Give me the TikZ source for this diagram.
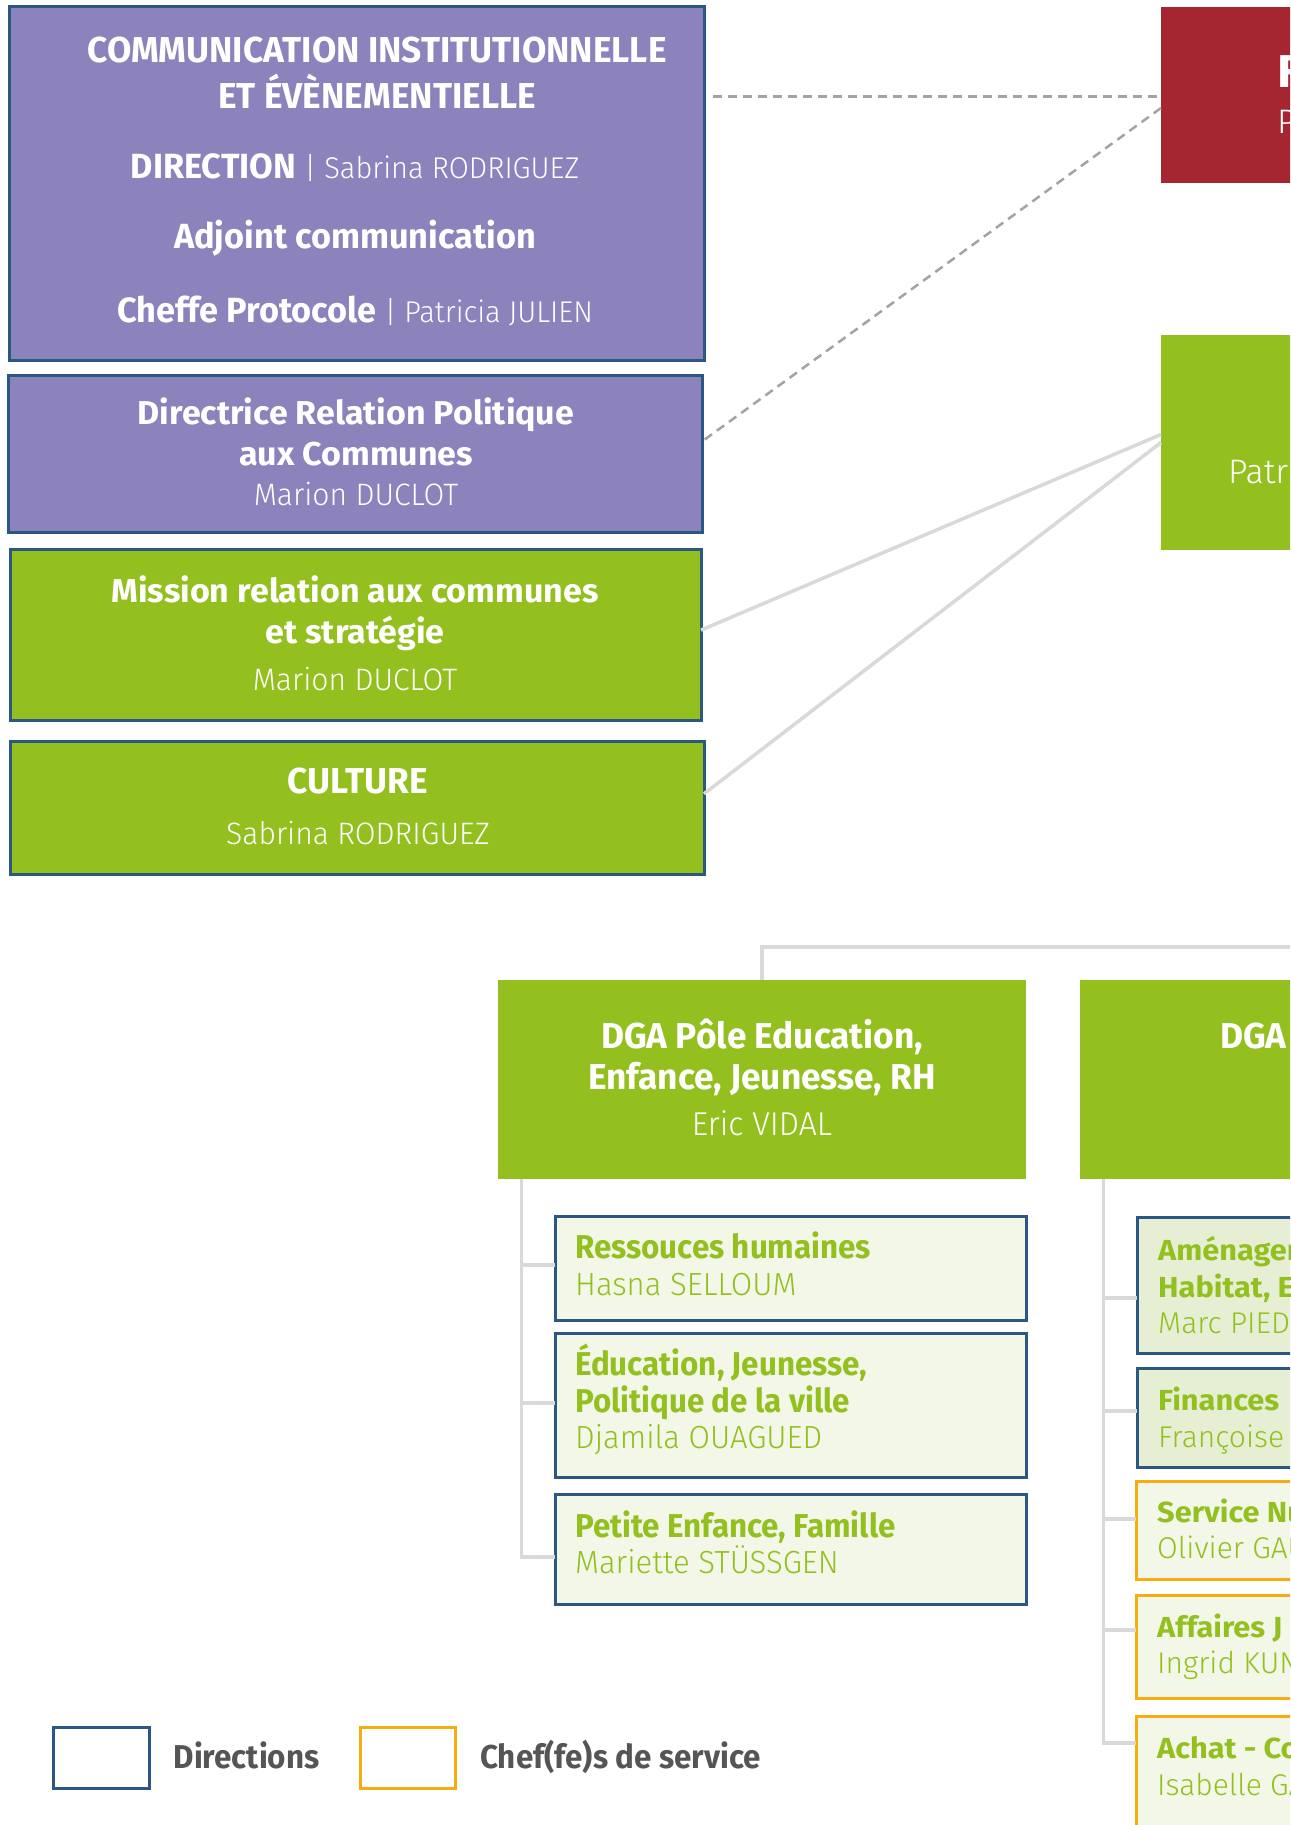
\documentclass[tikz,border=0pt]{standalone}
\usepackage{fontspec}
\setmainfont{Fira Sans}
\newfontfamily\CBa{Fira Sans}[FakeStretch=1.03]
\newfontfamily\CBb{Fira Sans}[FakeStretch=0.98]
\newfontfamily\CBc{Fira Sans}[FakeStretch=0.95]
\newfontfamily\CLf{Fira Sans Light}[FakeStretch=0.97]
\newfontfamily\NBf{Fira Sans}[FakeStretch=1.06]
\newfontfamily\NLf{Fira Sans Light}
\usetikzlibrary{calc}
\newcommand\fca[1]{\CBa\bfseries\fontsize{#1}{#1}\selectfont}
\newcommand\fcb[1]{\CBb\bfseries\fontsize{#1}{#1}\selectfont}
\newcommand\fcc[1]{\CBc\bfseries\fontsize{#1}{#1}\selectfont}
\newcommand\fcl[1]{\CLf\mdseries\fontsize{#1}{#1}\selectfont}
\newcommand\fnb[1]{\NBf\bfseries\fontsize{#1}{#1}\selectfont}
\newcommand\fnl[1]{\NLf\mdseries\fontsize{#1}{#1}\selectfont}
\newcommand\mkbox[6]{\node[#6, anchor=north west, inner sep=0pt, outer sep=0pt, minimum width={#4-#2}, minimum height={#5-#3}] (#1) at (#2,#3) {};}
\definecolor{purp}{HTML}{8C82BC}
\definecolor{dblue}{HTML}{2A5883}
\definecolor{lgreen}{HTML}{93C01F}
\definecolor{redc}{HTML}{A52630}
\definecolor{pale}{HTML}{F2F7E7}
\definecolor{paled}{HTML}{E6EFD4}
\definecolor{orng}{HTML}{F5AD0F}
\definecolor{conng}{HTML}{D9D9D9}
\definecolor{dashc}{HTML}{A3A3A3}
\definecolor{legtxt}{HTML}{555555}
\tikzset{
 pbox/.style={fill=purp, draw=dblue, line width=3pt},
 gbox/.style={fill=lgreen, draw=dblue, line width=3pt},
 gplain/.style={fill=lgreen},
 rplain/.style={fill=redc},
 dbox/.style={fill=pale, draw=dblue, line width=3pt},
 ddbox/.style={fill=paled, draw=dblue, line width=3pt},
 obox/.style={fill=pale, draw=orng, line width=3pt},
 legd/.style={fill=white, draw=dblue, line width=3pt},
 lego/.style={fill=white, draw=orng, line width=3pt},
 wt/.style={text=white, inner sep=0pt, anchor=base},
 wtl/.style={text=white, inner sep=0pt, anchor=base west},
 gt/.style={text=lgreen, inner sep=0pt, anchor=base west},
 lt/.style={text=legtxt, inner sep=0pt, anchor=base west, font=\fcc{33}},
 conn/.style={draw=conng, line width=3.5pt},
 dashl/.style={draw=dashc, line width=2.5pt, dash pattern=on 9pt off 6pt},
}
\begin{document}
\begin{tikzpicture}[x=1pt,y=-1pt]
\useasboundingbox (0,0) rectangle (1290,1825);
\fill[white] (0,0) rectangle (1290,1825);
\clip (0,0) rectangle (1290,1825);

% ---------- top-left boxes
\mkbox{comm}{9}{7}{704}{360}{pbox}
\node[wt,font=\fcb{36}] (comm1) at (377,63) {COMMUNICATION INSTITUTIONNELLE};
\node[wt,font=\fcb{36}] (comm2) at (377,109) {ET ÉVÈNEMENTIELLE};
\node[wt] (comm3) at (355,178) {\fcb{35}DIRECTION \fcl{30}| Sabrina RODRIGUEZ};
\node[wt,font=\fcb{35}] (comm4) at (355,248) {Adjoint communication};
\node[wt] (comm5) at (355,322) {\fcb{35}Cheffe Protocole \fcl{30}| Patricia JULIEN};

\mkbox{drp}{8}{375}{702}{532}{pbox}
\node[wt,font=\fca{33}] (drp1) at (356,424) {Directrice Relation Politique};
\node[wt,font=\fca{33}] (drp2) at (356,465) {aux Communes};
\node[wt,font=\fcl{31}] (drp3) at (356,505) {Marion DUCLOT};

\mkbox{mis}{10.5}{549.5}{701}{720.7}{gbox}
\node[wt,font=\fca{33}] (mis1) at (355,602) {Mission relation aux communes};
\node[wt,font=\fca{33}] (mis2) at (355,643) {et stratégie};
\node[wt,font=\fcl{31}] (mis3) at (355,690) {Marion DUCLOT};

\mkbox{cul}{10.5}{741.6}{704}{874}{gbox}
\node[wt,font=\fcb{36}] (cul1) at (358,793) {CULTURE};
\node[wt,font=\fcl{31}] (cul2) at (358,844) {Sabrina RODRIGUEZ};

% ---------- right-edge boxes
\mkbox{pres}{1161}{7}{1300}{183}{rplain}
\node[wtl,font=\fnb{46}] (pres1) at (1277,88) {F};
\node[wtl,font=\fnl{34}] (pres2) at (1277,133) {P};

\mkbox{dgs}{1161}{335}{1300}{550}{gplain}
\node[wtl,font=\fnl{34}] (dgs1) at (1228,483) {Patric};

% ---------- connectors top
\draw[dashl] ($(comm.east |- pres.west)+(9,1.5)$) -- ($(pres.west)+(0,1.5)$);
\draw[dashl] ($(pres.west)+(0,13)$) -- ($(drp.east)+(0,-12)$);
\draw[conn] ($(dgs.west)+(0,-8)$) -- ($(mis.east)+(0,-5)$);
\draw[conn] (dgs.west) -- ($(cul.east)+(0,-14)$);

% ---------- DGA boxes
\mkbox{dga1}{498}{980}{1026}{1179}{gplain}
\node[wt,font=\fcb{36}] (dga1a) at (762,1048) {DGA Pôle Education,};
\node[wt,font=\fcb{36}] (dga1b) at (762,1089) {Enfance, Jeunesse, RH};
\node[wt,font=\fcl{33}] (dga1c) at (762,1135) {Eric VIDAL};

\mkbox{dga2}{1080}{980}{1300}{1179}{gplain}
\node[wtl,font=\fcb{36}] (dga2a) at (1220,1048) {DGA};

\coordinate (topR) at (1300,947);
\draw[conn] (dga1.north) |- (topR);

% ---------- left column
\mkbox{rh}{555}{1216}{1026}{1320}{dbox}
\node[gt,font=\fcc{33}] (rh1) at (575,1258) {Ressouces humaines};
\node[gt,font=\fcl{32}] (rh2) at (575,1295) {Hasna SELLOUM};

\mkbox{edu}{555}{1333}{1026}{1477}{dbox}
\node[gt,font=\fcc{33}] (edu1) at (575,1375) {Éducation, Jeunesse,};
\node[gt,font=\fcc{33}] (edu2) at (575,1412) {Politique de la ville};
\node[gt,font=\fcl{32}] (edu3) at (575,1448) {Djamila OUAGUED};

\mkbox{pet}{555}{1494}{1026}{1604}{dbox}
\node[gt,font=\fcc{33}] (pet1) at (575,1537) {Petite Enfance, Famille};
\node[gt,font=\fcl{32}] (pet2) at (575,1573) {Mariette STÜSSGEN};

\coordinate (ltr) at ($(dga1.south west)+(23.5,0)$);
\draw[conn] (ltr) |- ($(pet.west)+(0,8)$);
\draw[conn] ($(ltr |- rh.west)+(0,-3)$) -- ($(rh.west)+(0,-3)$);
\draw[conn] ($(ltr |- edu.west)+(0,-2)$) -- ($(edu.west)+(0,-2)$);

% ---------- right column
\mkbox{amen}{1137}{1217}{1300}{1353}{ddbox}
\node[gt,font=\fnb{29}] (amen1) at (1158,1260) {Aménagem};
\node[gt,font=\fnb{29}] (amen2) at (1158,1297) {Habitat, E};
\node[gt,font=\fnl{30}] (amen3) at (1158,1333) {Marc PIED};

\mkbox{fin}{1137}{1368}{1300}{1467}{ddbox}
\node[gt,font=\fnb{29}] (fin1) at (1158,1410) {Finances};
\node[gt,font=\fnl{30}] (fin2) at (1158,1447) {Françoise};

\mkbox{serv}{1136}{1481}{1300}{1579}{obox}
\node[gt,font=\fnb{29}] (serv1) at (1157,1522) {Service Nu};
\node[gt,font=\fnl{30}] (serv2) at (1157,1558) {Olivier GAU};

\mkbox{aff}{1136}{1595}{1300}{1698}{obox}
\node[gt,font=\fnb{29}] (aff1) at (1157,1637) {Affaires J};
\node[gt,font=\fnl{30}] (aff2) at (1157,1673) {Ingrid KUN};

\mkbox{ach}{1136}{1716}{1300}{1840}{obox}
\node[gt,font=\fnb{29}] (ach1) at (1157,1758) {Achat - Co};
\node[gt,font=\fnl{30}] (ach2) at (1157,1795) {Isabelle GA};

\coordinate (rtr) at ($(dga2.south west)+(23.5,0)$);
\draw[conn] (rtr) |- ($(ach.north west)+(0,27)$);
\draw[conn] ($(rtr |- amen.west)+(0,13)$) -- ($(amen.west)+(0,13)$);
\draw[conn] ($(rtr |- fin.west)+(0,-6.5)$) -- ($(fin.west)+(0,-6.5)$);
\draw[conn] ($(rtr |- serv.west)+(0,-11)$) -- ($(serv.west)+(0,-11)$);
\draw[conn] ($(rtr |- aff.west)+(0,-16.5)$) -- ($(aff.west)+(0,-16.5)$);

% ---------- legend
\mkbox{legD}{53.5}{1727}{149}{1788}{legd}
\node[lt] (legDt) at (173.5,1768) {Directions};
\mkbox{legC}{360}{1727}{455}{1788}{lego}
\node[lt] (legCt) at (480,1768) {Chef(fe)s de service};
\end{tikzpicture}
\end{document}
